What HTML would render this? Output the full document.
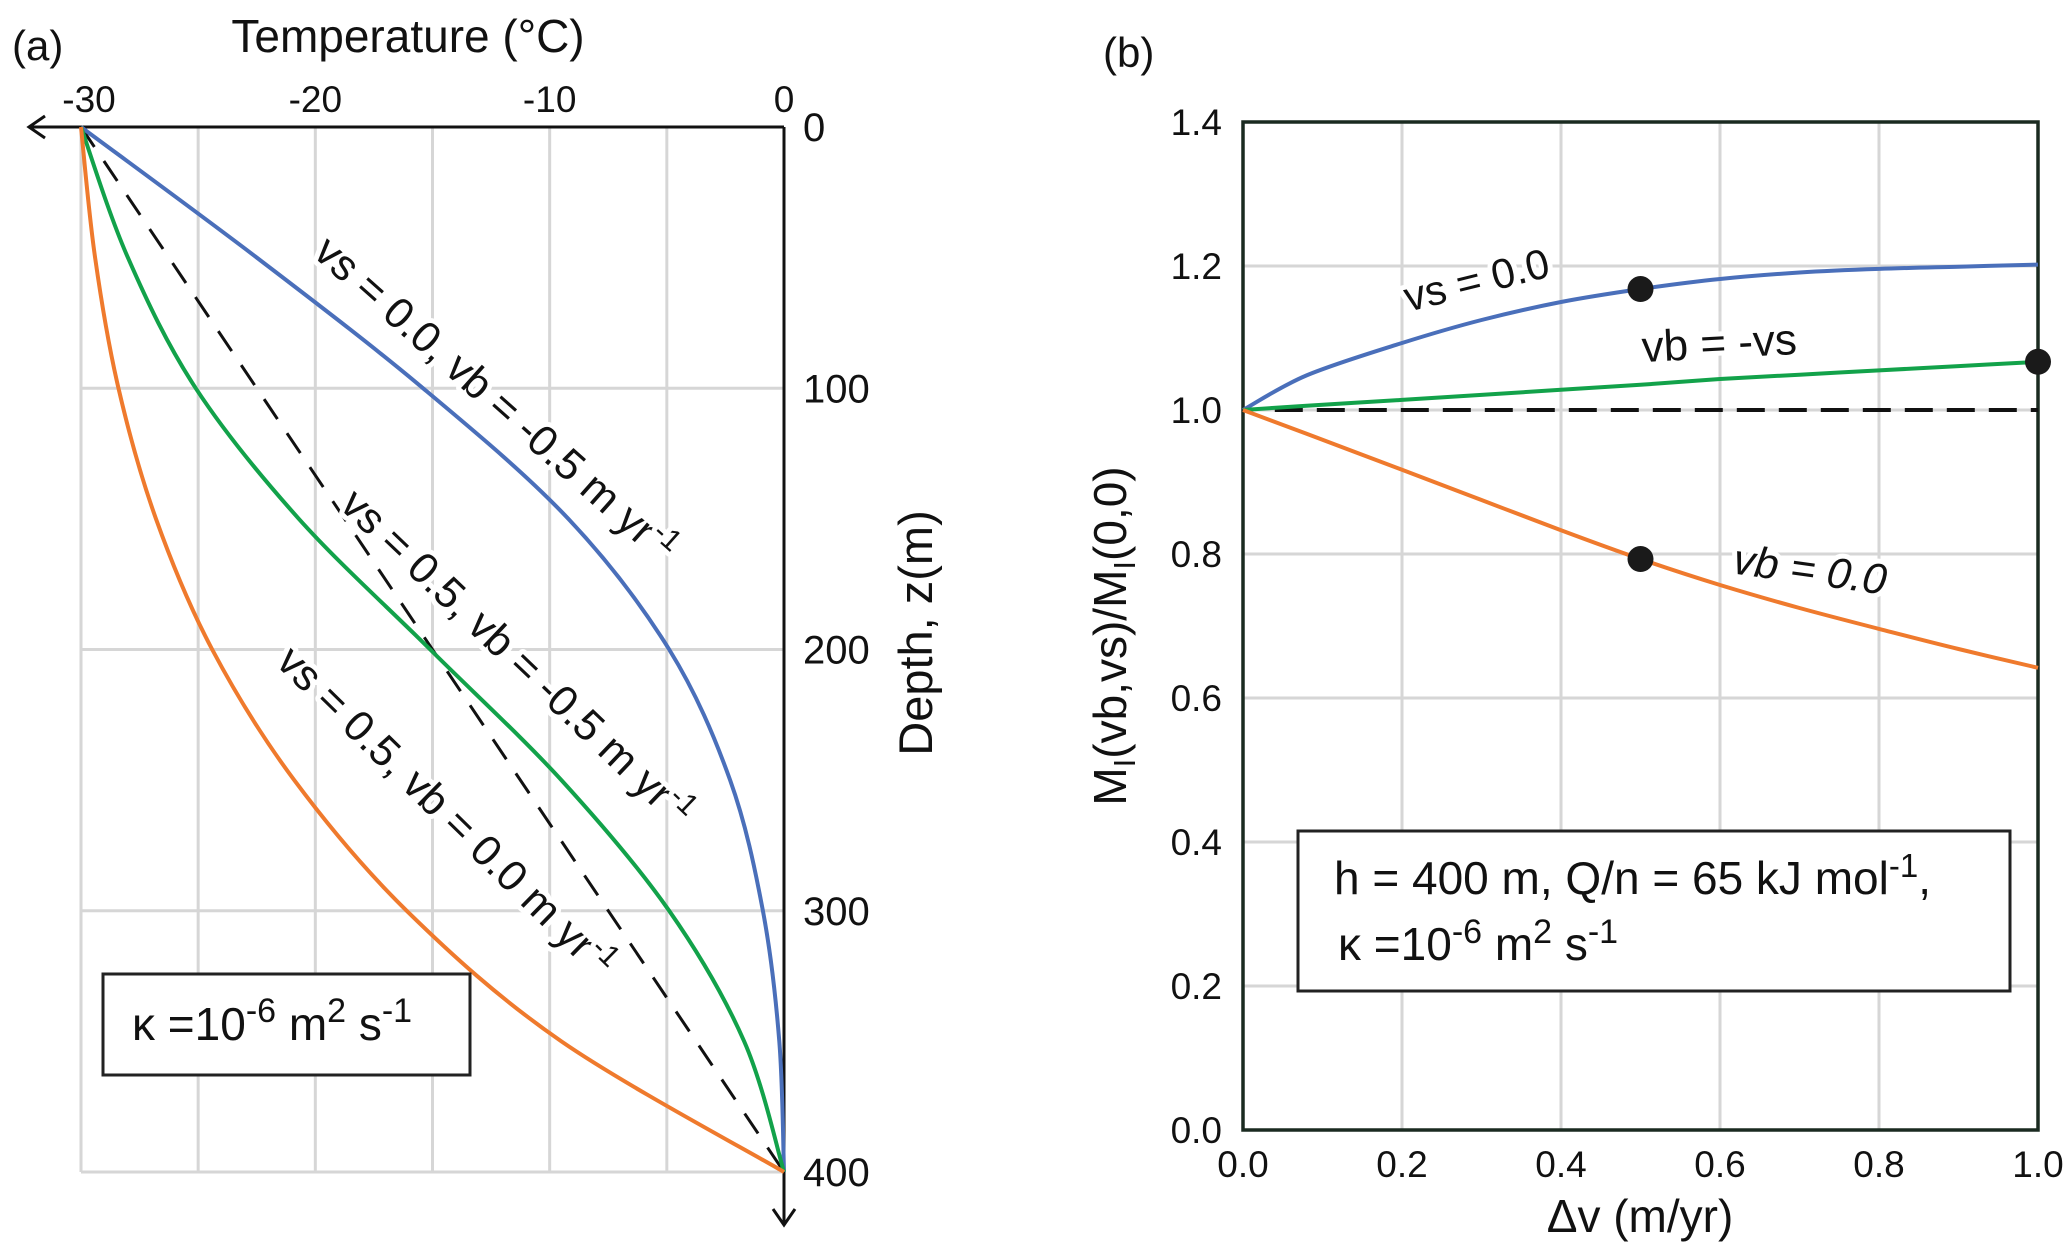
<!DOCTYPE html>
<html><head><meta charset="utf-8"><style>
html,body{margin:0;padding:0;background:#fff}
svg{display:block;font-family:"Liberation Sans","DejaVu Sans",sans-serif}
.lab{paint-order:stroke;stroke:#fff;stroke-width:10px;stroke-linejoin:round}
</style></head><body>
<svg id="c" width="2067" height="1256" viewBox="0 0 2067 1256" xmlns="http://www.w3.org/2000/svg">
<g id="pa"></g>
<g id="pb"></g>
</svg>
<script>
// ---------- Panel (a) data ----------
const depthsA = [0, 50, 100, 150, 200, 250, 300, 350, 400];
const tBlue   = [-30, -22.5, -15.4, -9.2, -4.9, -2.3, -0.9, -0.2, 0];
const tGreen  = [-30, -28.0, -25.1, -20.7, -15.1, -9.5, -4.9, -1.7, 0];
const tOrange = [-30, -29.4, -28.4, -26.8, -24.4, -20.9, -16.1, -9.5, 0];
const tDashed = [-30, 0];
const dDashed = [0, 400];
const tempTicks = [-30, -20, -10, 0];
const depthTicks = [0, 100, 200, 300, 400];

// ---------- Panel (b) data ----------
const dv = [0, 0.08, 0.2, 0.3, 0.4, 0.5, 0.6, 0.7, 0.8, 0.9, 1.0];
const mBlue   = [1.0, 1.048, 1.093, 1.125, 1.15, 1.168, 1.182, 1.191, 1.196, 1.199, 1.202];
const mGreen  = [1.0, 1.006, 1.014, 1.021, 1.028, 1.035, 1.043, 1.049, 1.055, 1.061, 1.067];
const mOrange = [1.0, 0.967, 0.917, 0.875, 0.833, 0.793, 0.757, 0.725, 0.696, 0.668, 0.642];
const dotX = [0.5, 1.0, 0.5];
const dotY = [1.168, 1.067, 0.793];
const xTicksB = [0, 0.2, 0.4, 0.6, 0.8, 1.0];
const xTickLabelsB = ["0.0", "0.2", "0.4", "0.6", "0.8", "1.0"];
const yTicksB = [0, 0.2, 0.4, 0.6, 0.8, 1.0, 1.2, 1.4];
const yTickLabelsB = ["0.0", "0.2", "0.4", "0.6", "0.8", "1.0", "1.2", "1.4"];

const NS = "http://www.w3.org/2000/svg";
function mk(parent, tag, attrs, text) {
  const e = document.createElementNS(NS, tag);
  for (const k in attrs) e.setAttribute(k, attrs[k]);
  if (text !== undefined) e.textContent = text;
  parent.appendChild(e);
  return e;
}
const pa = document.getElementById('pa');
const pb = document.getElementById('pb');

const ax = t => 81 + (t + 30) / 30 * 703;
const ay = z => 127 + z / 400 * 1045;

for (let t = -30; t <= 0; t += 5) {
  const g = mk(pa, 'line', {x1: ax(t), x2: ax(t), y1: ay(0), y2: ay(400), stroke: '#d6d6d6', 'stroke-width': 3});
  
  
}
for (let z = 100; z <= 400; z += 100) {
  const g = mk(pa, 'line', {x1: ax(-30), x2: ax(0), y1: ay(z), y2: ay(z), stroke: '#d6d6d6', 'stroke-width': 3});
  
  
}
let e;
e = mk(pa, 'path', {d: `M${ax(0)},${ay(0)} L29,${ay(0)} M45,${ay(0)-11} L29,${ay(0)} L45,${ay(0)+11}`, stroke: '#111', 'stroke-width': 3, fill: 'none'});


e = mk(pa, 'path', {d: `M${ax(0)},${ay(0)} L${ax(0)},1225 M${ax(0)-11},1209 L${ax(0)},1225 L${ax(0)+11},1209`, stroke: '#111', 'stroke-width': 3, fill: 'none'});



tempTicks.forEach(t => {
  const l = mk(pa, 'text', {x: ax(t) + (t === -30 ? 8 : 0), y: 112, 'font-size': 37, 'text-anchor': 'middle', fill: '#111'}, String(t));
  
  
});
depthTicks.forEach(z => {
  const l = mk(pa, 'text', {x: 803, y: ay(z) + 14, 'font-size': 40, fill: '#111'}, String(z));
  
  
});
e = mk(pa, 'text', {x: 408, y: 52, 'font-size': 46, 'text-anchor': 'middle', fill: '#111'}, 'Temperature (°C)');


e = mk(pa, 'text', {x: 0, y: 0, 'font-size': 47, 'text-anchor': 'middle', fill: '#111', transform: 'translate(932,633) rotate(-90)'}, 'Depth, z(m)');


e = mk(pa, 'text', {x: 12, y: 60, 'font-size': 42, fill: '#111'}, '(a)');



function smoothPath(pts) {
  let d = `M${pts[0][0]},${pts[0][1]}`;
  for (let i = 0; i < pts.length - 1; i++) {
    const p0 = pts[Math.max(0, i - 1)], p1 = pts[i], p2 = pts[i + 1], p3 = pts[Math.min(pts.length - 1, i + 2)];
    const c1 = [p1[0] + (p2[0] - p0[0]) / 6, p1[1] + (p2[1] - p0[1]) / 6];
    const c2 = [p2[0] - (p3[0] - p1[0]) / 6, p2[1] - (p3[1] - p1[1]) / 6];
    d += ` C${c1[0].toFixed(1)},${c1[1].toFixed(1)} ${c2[0].toFixed(1)},${c2[1].toFixed(1)} ${p2[0].toFixed(1)},${p2[1].toFixed(1)}`;
  }
  return d;
}
e = mk(pa, 'path', {d: `M${ax(tDashed[0])},${ay(dDashed[0])} L${ax(tDashed[1])},${ay(dDashed[1])}`, stroke: '#111', 'stroke-width': 3, fill: 'none', 'stroke-dasharray': '24,17'});


[[tBlue, '#4a6fba', 'blue-profile'], [tGreen, '#12a24a', 'green-profile'], [tOrange, '#ef7a2d', 'orange-profile']].forEach(s => {
  const l = mk(pa, 'path', {d: smoothPath(s[0].map((t, i) => [ax(t), ay(depthsA[i])])), stroke: s[1], 'stroke-width': 4, fill: 'none'});
  
  
});
function rlabel(parent, x, y, ang, size, html, name, extra) {
  const t = mk(parent, 'text', Object.assign({x: 0, y: 0, 'font-size': size, 'text-anchor': 'middle', fill: '#111', class: 'lab', transform: `translate(${x},${y}) rotate(${ang})`}, extra || {}));
  t.innerHTML = html;
  
  
  return t;
}
const yr = 'm yr<tspan dy="-16" font-size="30">-1</tspan>';
rlabel(pa, 486, 410, 41.6, 43, 'vs = 0.0, vb = -0.5 ' + yr, 'label-blue-profile');
rlabel(pa, 507, 668, 43.6, 43, 'vs = 0.5, vb = -0.5 ' + yr, 'label-green-profile');
rlabel(pa, 436, 822, 44.4, 43, 'vs = 0.5, vb = 0.0 ' + yr, 'label-orange-profile');

e = mk(pa, 'rect', {x: 103, y: 974, width: 367, height: 101, fill: '#fff', stroke: '#222', 'stroke-width': 3});


e = mk(pa, 'text', {x: 132, y: 1040, 'font-size': 46, fill: '#111'});
e.innerHTML = 'κ =10<tspan dy="-18" font-size="34">-6</tspan><tspan dy="18">  m</tspan><tspan dy="-18" font-size="34">2</tspan><tspan dy="18"> s</tspan><tspan dy="-18" font-size="34">-1</tspan>';



// ---------- Panel b ----------
const bx = v => 1243 + v * 795;
const by = v => 1130 - v / 1.4 * 1008;
xTicksB.forEach(v => {
  if (v > 0 && v < 1) {
    const g = mk(pb, 'line', {x1: bx(v), x2: bx(v), y1: by(0), y2: by(1.4), stroke: '#d6d6d6', 'stroke-width': 3});
    
    
  }
});
yTicksB.forEach(v => {
  if (v > 0 && v < 1.4) {
    const g = mk(pb, 'line', {x1: bx(0), x2: bx(1), y1: by(v), y2: by(v), stroke: '#d6d6d6', 'stroke-width': 3});
    
    
  }
});
e = mk(pb, 'rect', {x: bx(0), y: by(1.4), width: bx(1) - bx(0), height: by(0) - by(1.4), fill: 'none', stroke: '#1a2a20', 'stroke-width': 3.5});


xTicksB.forEach((v, i) => {
  const l = mk(pb, 'text', {x: bx(v), y: 1177, 'font-size': 37, 'text-anchor': 'middle', fill: '#111'}, xTickLabelsB[i]);
  
  
});
yTicksB.forEach((v, i) => {
  const l = mk(pb, 'text', {x: 1222, y: by(v) + 13, 'font-size': 37, 'text-anchor': 'end', fill: '#111'}, yTickLabelsB[i]);
  
  
});
e = mk(pb, 'text', {x: 1640, y: 1232, 'font-size': 46, 'text-anchor': 'middle', fill: '#111'}, 'Δv (m/yr)');


e = mk(pb, 'text', {x: 0, y: 0, 'font-size': 46, 'text-anchor': 'middle', fill: '#111', transform: 'translate(1126,636) rotate(-90)'});
e.innerHTML = 'M<tspan dy="9" font-size="31">I</tspan><tspan dy="-9">(vb,vs)/M</tspan><tspan dy="9" font-size="31">I</tspan><tspan dy="-9">(0,0)</tspan>';


e = mk(pb, 'text', {x: 1103, y: 67, 'font-size': 42, fill: '#111'}, '(b)');



e = mk(pb, 'line', {x1: bx(0.04), x2: bx(1), y1: by(1), y2: by(1), stroke: '#111', 'stroke-width': 4, 'stroke-dasharray': '28,14'});


[[mBlue, '#4a6fba', 'line-vs-0'], [mGreen, '#12a24a', 'line-vb-minus-vs'], [mOrange, '#ef7a2d', 'line-vb-0']].forEach(s => {
  const l = mk(pb, 'path', {d: smoothPath(s[0].map((m, i) => [bx(dv[i]), by(m)])), stroke: s[1], 'stroke-width': 4, fill: 'none'});
  
  
});
dotX.forEach((x, i) => {
  const d = mk(pb, 'circle', {cx: bx(x), cy: by(dotY[i]), r: 13, fill: '#1a1a1a'});
  
  
});
rlabel(pb, 1480, 294, -14, 42, 'vs = 0.0', 'label-vs-0');
rlabel(pb, 1720, 358, -3, 44, 'vb = -vs', 'label-vb-minus-vs');
rlabel(pb, 1808, 584, 8, 43, 'vb = 0.0', 'label-vb-0', {'font-style': 'italic'});

e = mk(pb, 'rect', {x: 1298, y: 831, width: 712, height: 160, fill: '#fff', stroke: '#222', 'stroke-width': 3});


e = mk(pb, 'text', {x: 1334, y: 894, 'font-size': 46, fill: '#111'});
e.innerHTML = 'h = 400 m, Q/n = 65 kJ mol<tspan dy="-17" font-size="33">-1</tspan><tspan dy="17">,</tspan>';


e = mk(pb, 'text', {x: 1338, y: 960, 'font-size': 46, fill: '#111'});
e.innerHTML = 'κ =10<tspan dy="-17" font-size="34">-6</tspan><tspan dy="17">  m</tspan><tspan dy="-17" font-size="34">2</tspan><tspan dy="17"> s</tspan><tspan dy="-17" font-size="34">-1</tspan>';


</script>
</body></html>
